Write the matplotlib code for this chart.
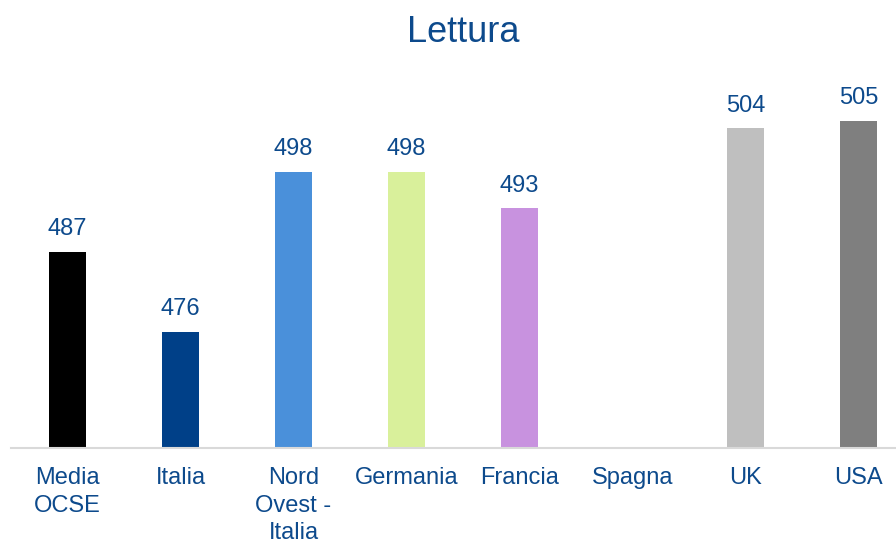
import numpy as np
import matplotlib.pyplot as plt

# Punteggi di lettura per paese (Spagna non disponibile)
paesi = ['Media\nOCSE', 'Italia', 'Nord\nOvest -\nItalia', 'Germania', 'Francia', 'Spagna', 'UK', 'USA']
punteggi = [487, 476, 498, 498, 493, np.nan, 504, 505]
colori = ['#000000', '#004088', '#4A90DA', '#D9F09B', '#C892DF', '#FFFFFF', '#BFBFBF', '#7F7F7F']

blu = '#0D4A8C'
plt.rcParams['font.family'] = ['Liberation Sans', 'DejaVu Sans']

fig = plt.figure(figsize=(8.96, 5.39), dpi=100)
ax = fig.add_axes([11/896, 91/539, 904/896, 388/539])

x = np.arange(len(paesi))
barre = ax.bar(x, punteggi, width=0.32, color=colori, bottom=0)

for xi, v in zip(x, punteggi):
    if np.isnan(v):
        continue
    ax.annotate(f'{v:.0f}', (xi, v), xytext=(0, 12), textcoords='offset points',
                ha='center', va='baseline', fontsize=17, color=blu)

ax.set_xlim(-0.5, len(paesi) - 0.5)
ax.set_ylim(460, 513.4)
ax.set_xticks(x)
ax.set_xticklabels(paesi, fontsize=17, color=blu, linespacing=1.3)
ax.tick_params(axis='x', length=0, pad=14)
ax.set_yticks([])
for s in ['top', 'right', 'left']:
    ax.spines[s].set_visible(False)
ax.spines['bottom'].set_color('#D9D9D9')
ax.spines['bottom'].set_linewidth(1.5)

ax.set_title('Lettura', fontsize=26, color=blu, pad=13)

plt.savefig('out.png', dpi=100)
